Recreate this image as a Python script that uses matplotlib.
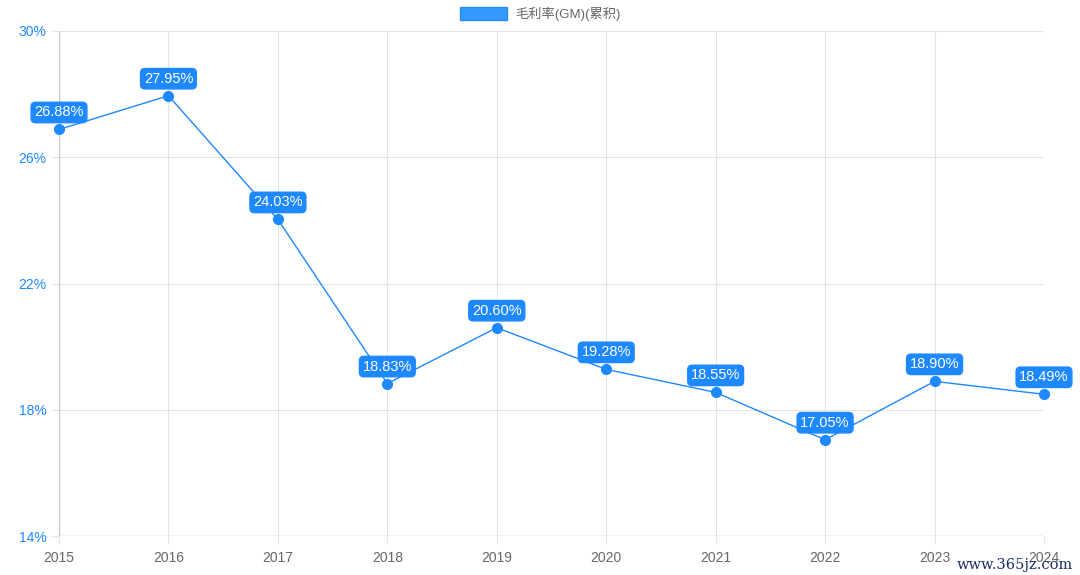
import matplotlib
matplotlib.use("Agg")
import matplotlib.pyplot as plt
import matplotlib.patches as mpatches

plt.rcParams['font.family'] = ['Liberation Sans', 'Noto Sans CJK SC']

years = [2015, 2016, 2017, 2018, 2019, 2020, 2021, 2022, 2023, 2024]
gm = [26.88, 27.95, 24.03, 18.83, 20.60, 19.28, 18.55, 17.05, 18.90, 18.49]
yticks = [14, 18, 22, 26, 30]
series_name = '毛利率(GM)(累积)'

blue = '#1E88FF'
grid_c = '#e3e3e3'

fig = plt.figure(figsize=(10.8, 5.75), dpi=100)
ax = fig.add_axes([59 / 1080, 1 - 536 / 575, (1044 - 59) / 1080, (536 - 31) / 575])

ax.plot(years, gm, color=blue, linewidth=1, marker='o', markersize=7,
        markerfacecolor=blue, markeredgecolor=blue, zorder=3, clip_on=False)

# value labels in rounded boxes above each point
for x, v in zip(years, gm):
    ax.annotate('%.2f%%' % v, (x, v), xytext=(0, 10), textcoords='offset pixels',
                ha='center', va='bottom', color='white', fontsize=10.5,
                zorder=5, annotation_clip=False,
                bbox=dict(boxstyle='round,pad=0.22,rounding_size=0.3',
                          fc=blue, ec=blue))

ax.set_xlim(2015, 2024)
ax.set_ylim(14, 30)
ax.set_xticks(years)
ax.set_yticks(yticks)
ax.set_yticklabels(['%d%%' % t for t in yticks])
ax.grid(True, color=grid_c, linewidth=0.75)
ax.set_axisbelow(True)
for s in ax.spines.values():
    s.set_visible(False)
ax.axhline(14, color='#c8c8c8', linewidth=1, zorder=1)
ax.axvline(2015, color='#c8c8c8', linewidth=1, zorder=1)
ax.tick_params(axis='x', colors=grid_c, labelcolor='#666666', length=6, width=0.75,
               labelsize=10, pad=5)
ax.tick_params(axis='y', colors=grid_c, labelcolor=blue, length=6, width=0.75,
               labelsize=10, pad=3)

handle = mpatches.Patch(facecolor='#3399FF', edgecolor='#2a8cf0', label=series_name)
fig.legend(handles=[handle], loc='upper center', bbox_to_anchor=(0.5, 1.0),
           frameon=False, fontsize=9.5, handlelength=3.6, handleheight=1.1,
           labelcolor='#666666', borderaxespad=0.1, handletextpad=0.6)

fig.text(1073 / 1080, 1 - 565 / 575, 'www.365jz.com', ha='right', va='center',
         color='#1b2f66', fontsize=10.5, family=['DejaVu Serif'])

fig.savefig('out.png', dpi=100)
